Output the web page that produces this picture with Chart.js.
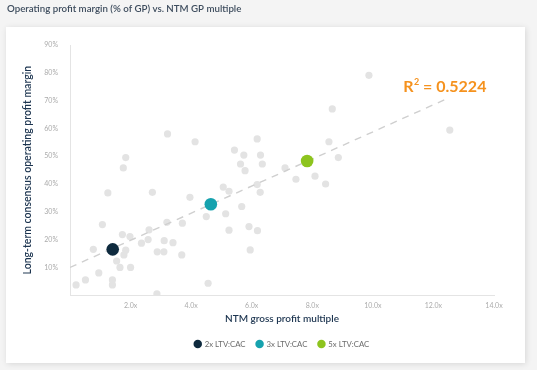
<!DOCTYPE html>
<html>
<head>
<meta charset="utf-8">
<script src="https://cdn.jsdelivr.net/npm/chart.js@4.4.0/dist/chart.umd.min.js"></script>
<style>
  html, body { margin: 0; padding: 0; background: #f4f4f4; }
  #wrap { position: absolute; left: 0; top: 0; width: 537px; height: 370px; }
</style>
</head>
<body>
<div id="wrap"><canvas id="c" width="537" height="370"></canvas></div>
<script>
const chartTitle = 'Operating profit margin (% of GP) vs. NTM GP multiple';
const xAxisTitle = 'NTM gross profit multiple';
const yAxisTitle = 'Long-term consensus operating profit margin';
const xTickValues = [2, 4, 6, 8, 10, 12, 14];
const yTickValues = [10, 20, 30, 40, 50, 60, 70, 80, 90];

const grayX = [3.22, 4.13, 1.84, 1.76, 5.43, 5.74, 5.63, 5.78, 6.18, 6.29, 6.35, 1.25, 2.72, 5.06, 5.25, 6.18, 6.28, 3.96, 5.67, 5.14,
               4.50, 1.07, 3.20, 3.71, 5.25, 5.91, 6.19, 2.61, 1.73, 1.98, 2.58, 2.36, 3.11, 3.40, 0.77, 1.84, 1.78, 1.54, 2.88, 3.10,
               3.69, 5.95, 1.65, 2.00, 0.95, 0.51, 0.20, 1.40, 1.40, 2.87, 4.56, 9.87, 8.66, 12.54, 8.55, 8.86, 7.10, 7.46, 8.09, 8.44];
const grayY = [58.0, 55.2, 49.5, 45.8, 52.2, 50.4, 47.2, 44.8, 56.2, 50.4, 47.2, 36.8, 37.0, 38.9, 37.4, 39.8, 37.0, 35.2, 31.9, 29.3,
               28.3, 25.4, 26.2, 25.9, 23.4, 24.7, 23.2, 23.5, 21.8, 21.1, 20.0, 18.7, 19.6, 18.9, 16.5, 16.2, 14.5, 12.3, 15.6, 15.6,
               14.5, 16.3, 10.0, 10.0, 8.0, 5.5, 3.7, 5.5, 3.7, 0.5, 4.3, 79.1, 67.0, 59.4, 55.2, 49.5, 45.8, 41.7, 42.8, 40.0];

const ltvLabels = ['2x LTV:CAC', '3x LTV:CAC', '5x LTV:CAC'];
const ltvX = [1.41, 4.65, 7.83];
const ltvY = [16.5, 32.7, 48.3];
const ltvColors = ['#0e2a3e', '#16a2ae', '#8dc41e'];

const trendX = [0, 12.43];
const trendY = [10.0, 70.6];
const rSquaredText = '0.5224';
const rLabelPos = [11.0, 75.0];

const grayPoints = grayX.map((x, i) => ({ x: x, y: grayY[i] }));
const trendPoints = trendX.map((x, i) => ({ x: x, y: trendY[i] }));

const FONT = 'Lato, "Open Sans", sans-serif';

const datasets = [];
ltvLabels.forEach((lab, i) => {
  datasets.push({
    type: 'scatter', label: lab, data: [{ x: ltvX[i], y: ltvY[i] }],
    backgroundColor: ltvColors[i], borderColor: ltvColors[i], borderWidth: 0,
    pointRadius: 6.3, pointHoverRadius: 6.3, order: 0
  });
});
datasets.push({
  type: 'line', label: 'trend', data: trendPoints,
  borderColor: '#cfcfcf', borderWidth: 1.4, borderDash: [7, 6],
  pointRadius: 0, fill: false, order: 2
});
datasets.push({
  type: 'scatter', label: 'companies', data: grayPoints,
  backgroundColor: '#e3e3e3', borderWidth: 0, pointRadius: 3.6, order: 3
});

const cardPlugin = {
  id: 'card',
  beforeDraw(chart) {
    const ctx = chart.ctx;
    ctx.save();
    ctx.fillStyle = '#f4f4f4';
    ctx.fillRect(0, 0, chart.width, chart.height);
    ctx.shadowColor = 'rgba(0,0,0,0.12)';
    ctx.shadowBlur = 6;
    ctx.shadowOffsetX = 1;
    ctx.shadowOffsetY = 1;
    ctx.fillStyle = '#ffffff';
    ctx.fillRect(6, 27, 519, 336);
    ctx.restore();
    ctx.save();
    ctx.fillStyle = '#3e4d5e';
    ctx.font = '600 9.7px ' + FONT;
    ctx.textBaseline = 'middle';
    ctx.textAlign = 'left';
    ctx.fillText(chartTitle, 7, 9);
    ctx.restore();
  },
  afterDatasetsDraw(chart) {
    const ctx = chart.ctx;
    const xs = chart.scales.x, ys = chart.scales.y;
    let px = xs.getPixelForValue(rLabelPos[0]);
    const py = ys.getPixelForValue(rLabelPos[1]);
    ctx.save();
    ctx.fillStyle = '#f5921e';
    ctx.textBaseline = 'middle';
    ctx.textAlign = 'left';
    ctx.font = '700 16px ' + FONT;
    ctx.fillText('R', px, py);
    px += ctx.measureText('R').width + 0.5;
    ctx.font = '700 9px ' + FONT;
    ctx.fillText('2', px, py - 5);
    px += ctx.measureText('2').width;
    ctx.font = '700 16px ' + FONT;
    ctx.fillText(' = ' + rSquaredText, px, py);
    ctx.restore();
  }
};

new Chart(document.getElementById('c'), {
  data: { datasets: datasets },
  plugins: [cardPlugin],
  options: {
    responsive: false,
    animation: false,
    layout: { padding: { left: 20, right: 43, top: 45, bottom: 12 } },
    plugins: {
      legend: {
        display: true, position: 'bottom', fullSize: false,
        labels: {
          filter: (item) => ltvLabels.includes(item.text),
          usePointStyle: true, pointStyle: 'circle',
          boxWidth: 6, boxHeight: 6,
          padding: 11,
          color: '#6b6b6b',
          font: { family: FONT, size: 7.8 }
        }
      },
      tooltip: { enabled: false }
    },
    scales: {
      x: {
        type: 'linear', min: 0, max: 14,
        afterFit: (s) => { s.height = 34; },
        afterBuildTicks: (s) => { s.ticks = [0].concat(xTickValues).map(v => ({ value: v })); },
        grid: { display: false, drawTicks: false },
        border: { display: true, color: '#e4e4e4', width: 1 },
        ticks: {
          padding: 6, color: '#ababab', font: { family: FONT, size: 7 },
          maxRotation: 0,
          callback: (v) => v === 0 ? '' : v.toFixed(1) + 'x'
        },
        title: {
          display: true, text: xAxisTitle, color: '#1d3550',
          font: { family: FONT, size: 10, weight: '600' },
          padding: { top: 0, bottom: 4 }
        }
      },
      y: {
        type: 'linear', min: 0, max: 90,
        afterFit: (s) => { s.width = 50; },
        afterBuildTicks: (s) => { s.ticks = [0].concat(yTickValues).map(v => ({ value: v })); },
        grid: { display: false, drawTicks: false },
        border: { display: true, color: '#e4e4e4', width: 1 },
        ticks: {
          padding: 12, color: '#ababab', font: { family: FONT, size: 7 },
          callback: (v) => v === 0 ? '' : v + '%'
        },
        title: {
          display: true, text: yAxisTitle, color: '#1d3550',
          font: { family: FONT, size: 10.5, weight: '600' },
          padding: { top: 1, bottom: 0 }
        }
      }
    }
  }
});
</script>
</body>
</html>
